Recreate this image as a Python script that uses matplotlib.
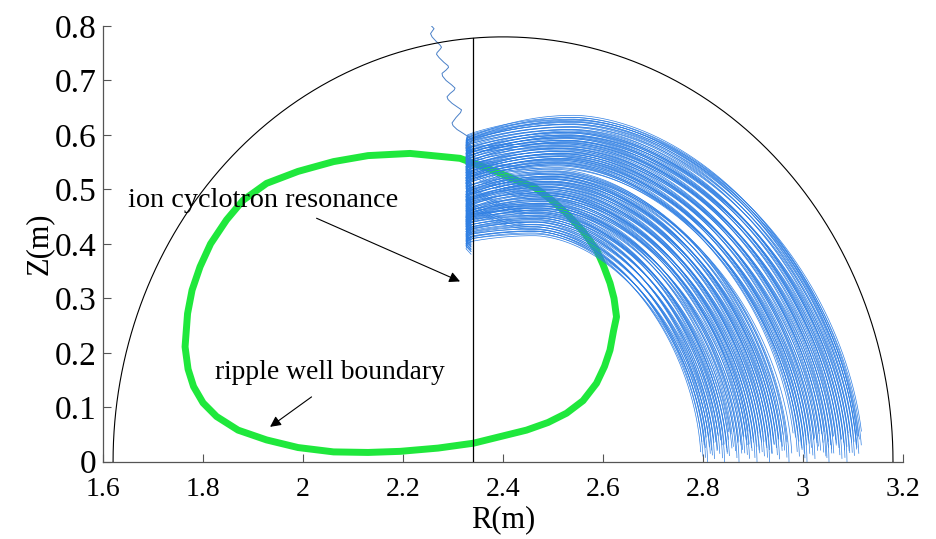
import numpy as np
import matplotlib
matplotlib.use("Agg")
import matplotlib.pyplot as plt

plt.rcParams['font.family'] = ['Liberation Serif', 'DejaVu Serif']

# ---- data -------------------------------------------------------------
x_ticks = [1.6, 1.8, 2.0, 2.2, 2.4, 2.6, 2.8, 3.0, 3.2]
x_ticklabels = ['1.6', '1.8', '2', '2.2', '2.4', '2.6', '2.8', '3', '3.2']
y_ticks = [0, 0.1, 0.2, 0.3, 0.4, 0.5, 0.6, 0.7, 0.8]
y_ticklabels = ['0', '0.1', '0.2', '0.3', '0.4', '0.5', '0.6', '0.7', '0.8']

# plasma boundary (semicircle) and resonance position
wall_center_R = 2.40
wall_radius = 0.78
resonance_R = 2.34

# ripple well boundary contour (R, Z)
well_R = [2.434, 2.380, 2.314, 2.214, 2.130, 2.061, 1.990, 1.927, 1.880, 1.847,
          1.815, 1.794, 1.778, 1.769, 1.764, 1.770, 1.781, 1.800, 1.827, 1.870,
          1.927, 1.990, 2.061, 2.130, 2.194, 2.270, 2.341, 2.394, 2.447, 2.490,
          2.527, 2.560, 2.587, 2.603, 2.614, 2.621, 2.627, 2.622, 2.614, 2.600,
          2.587, 2.560, 2.527, 2.495, 2.461, 2.434]
well_Z = [0.514, 0.535, 0.557, 0.566, 0.562, 0.551, 0.533, 0.511, 0.480, 0.444,
          0.400, 0.358, 0.315, 0.272, 0.211, 0.170, 0.138, 0.108, 0.083, 0.058,
          0.040, 0.026, 0.018, 0.017, 0.019, 0.025, 0.034, 0.046, 0.058, 0.072,
          0.089, 0.112, 0.144, 0.175, 0.205, 0.240, 0.266, 0.300, 0.328, 0.362,
          0.389, 0.423, 0.456, 0.482, 0.505, 0.514]

# escaping ion track above the resonance (R, Z)
escape_R = [2.257, 2.262, 2.258, 2.255, 2.258, 2.266, 2.274, 2.277, 2.274, 2.268,
            2.267, 2.272, 2.282, 2.290, 2.291, 2.286, 2.278, 2.279, 2.286, 2.297,
            2.304, 2.302, 2.294, 2.288, 2.290, 2.298, 2.309, 2.317, 2.315, 2.306,
            2.298, 2.300, 2.308, 2.320, 2.335, 2.337, 2.330, 2.326]
escape_Z = [0.800, 0.795, 0.790, 0.786, 0.780, 0.772, 0.765, 0.761, 0.757, 0.751,
            0.748, 0.742, 0.733, 0.727, 0.724, 0.719, 0.713, 0.708, 0.700, 0.692,
            0.686, 0.682, 0.676, 0.670, 0.665, 0.658, 0.651, 0.646, 0.641, 0.632,
            0.622, 0.617, 0.610, 0.603, 0.594, 0.588, 0.580, 0.576]

# trapped orbits: Z at resonance tip, peak Z, R where the orbit reaches the
# midplane, and Z at which the last bounce stops
orbit_tip_Z = [0.410, 0.418, 0.415, 0.425, 0.470, 0.432, 0.428, 0.441, 0.436, 0.450,
               0.445, 0.500, 0.452, 0.460, 0.455, 0.447, 0.463, 0.530, 0.458, 0.475,
               0.468, 0.462, 0.482, 0.478, 0.545, 0.488, 0.492, 0.480, 0.498, 0.505,
               0.490, 0.500, 0.555, 0.505, 0.520, 0.525, 0.515, 0.530, 0.535, 0.522,
               0.540, 0.548, 0.532, 0.552, 0.575, 0.540, 0.560, 0.565, 0.550, 0.570,
               0.575, 0.560, 0.578, 0.585, 0.568, 0.590, 0.592, 0.598, 0.600, 0.595]
orbit_peak_Z = [0.420, 0.428, 0.423, 0.436, 0.431, 0.445, 0.440, 0.452, 0.447, 0.458,
                0.462, 0.455, 0.466, 0.470, 0.474, 0.468, 0.480, 0.486, 0.478, 0.490,
                0.494, 0.488, 0.500, 0.505, 0.497, 0.510, 0.515, 0.508, 0.520, 0.524,
                0.518, 0.528, 0.533, 0.530, 0.545, 0.550, 0.543, 0.556, 0.560, 0.553,
                0.566, 0.570, 0.562, 0.575, 0.580, 0.572, 0.586, 0.590, 0.583, 0.595,
                0.600, 0.593, 0.605, 0.610, 0.603, 0.615, 0.620, 0.625, 0.628, 0.632]
orbit_end_R = [2.800, 2.804, 2.809, 2.814, 2.818, 2.823, 2.828, 2.834, 2.838, 2.843,
               2.848, 2.853, 2.860, 2.866, 2.872, 2.878, 2.884, 2.889, 2.893, 2.898,
               2.903, 2.908, 2.913, 2.918, 2.923, 2.928, 2.933, 2.938, 2.943, 2.948,
               2.953, 2.958, 2.964, 2.972, 2.988, 2.993, 2.998, 3.003, 3.008, 3.013,
               3.018, 3.024, 3.030, 3.036, 3.041, 3.046, 3.052, 3.057, 3.062, 3.068,
               3.073, 3.078, 3.083, 3.088, 3.093, 3.098, 3.103, 3.108, 3.112, 3.115]
orbit_cut_Z = [0.010, 0.030, 0.000, 0.045, 0.020, 0.005, 0.035, 0.015, 0.040, 0.000,
               0.025, 0.010, 0.050, 0.020, 0.000, 0.030, 0.015, 0.040, 0.005, 0.025,
               0.035, 0.000, 0.020, 0.045, 0.010, 0.030, 0.000, 0.015, 0.040, 0.025,
               0.005, 0.035, 0.020, 0.000, 0.045, 0.010, 0.030, 0.015, 0.000, 0.040,
               0.025, 0.005, 0.035, 0.020, 0.050, 0.010, 0.000, 0.030, 0.015, 0.040,
               0.025, 0.005, 0.035, 0.000, 0.020, 0.045, 0.010, 0.030, 0.015, 0.040]

# successive bounces of each orbit drift slightly: shift of end R, peak Z and stop Z
bounce_dR = [0.000, 0.006, -0.004]
bounce_dZ = [0.000, -0.005, 0.004]
bounce_cut = [0.000, 0.015, 0.007]

# ---- figure -----------------------------------------------------------
fig = plt.figure(figsize=(9.37, 5.39), dpi=100)
ax = fig.add_axes([0.110, 0.1434, 0.8537, 0.8084])

orbit_color = '#2f7fe3'
green = '#1fe83c'

# ripple well boundary
ax.plot(well_R, well_Z, color=green, lw=5.0, solid_capstyle='round', zorder=2)

# trapped orbits
p = 1.8
t = np.linspace(0, np.pi / 2, 400)
for tip, peak0, end0, cut0 in zip(orbit_tip_Z, orbit_peak_Z, orbit_end_R, orbit_cut_Z):
    for dR, dZ, dcut in zip(bounce_dR, bounce_dZ, bounce_cut):
        end = end0 + dR
        peak = peak0 + dZ
        t0 = tip + dZ
        R0 = resonance_R + 0.26 * (end - resonance_R)
        a = end - R0
        # turning tip at the resonance
        hook_R = [resonance_R - 0.004, resonance_R - 0.014, resonance_R - 0.011,
                  resonance_R]
        hook_Z = [t0 - 0.024, t0 - 0.014, t0 - 0.004, t0]
        # rising leg up to the peak
        s = np.linspace(0, 1, 40)
        left_R = resonance_R + s * (R0 - resonance_R)
        left_Z = t0 + (peak - t0) * (1 - (1 - s) ** 2)
        # descending leg (superellipse quadrant) down towards the midplane
        right_R = R0 + a * np.sin(t) ** (2 / p)
        right_Z = peak * np.cos(t) ** (2 / p)
        keep = right_Z >= min(cut0 + dcut, 0.055)
        R = np.concatenate([hook_R, left_R, right_R[keep]])
        Z = np.concatenate([hook_Z, left_Z, right_Z[keep]])
        ax.plot(R, Z, color=orbit_color, lw=0.5, zorder=3)

# escaping track
ax.plot(escape_R, escape_Z, color='#4a80c8', lw=0.7, zorder=3)

# wall
th = np.linspace(0, np.pi, 400)
ax.plot(wall_center_R + wall_radius * np.cos(th), wall_radius * np.sin(th),
        color='black', lw=0.8, zorder=4)

# resonance layer
res_top = np.sqrt(wall_radius ** 2 - (resonance_R - wall_center_R) ** 2)
ax.plot([resonance_R, resonance_R], [0, res_top], color='black', lw=0.9, zorder=4)

# annotations
ax.text(1.650, 0.468, 'ion cyclotron resonance', fontsize=20.3, ha='left',
        va='baseline', zorder=6)
ax.annotate('', xy=(2.314, 0.331), xytext=(2.027, 0.447),
            arrowprops=dict(arrowstyle='-|>', color='black', lw=0.8,
                            mutation_scale=16, shrinkA=0, shrinkB=0), zorder=6)
ax.text(1.824, 0.151, 'ripple well boundary', fontsize=19.8, ha='left',
        va='baseline', zorder=6)
ax.annotate('', xy=(1.934, 0.064), xytext=(2.017, 0.119),
            arrowprops=dict(arrowstyle='-|>', color='black', lw=0.8,
                            mutation_scale=16, shrinkA=0, shrinkB=0), zorder=6)

# axes styling
ax.set_xlim(1.6, 3.2)
ax.set_ylim(0, 0.8)
ax.set_xticks(x_ticks)
ax.set_xticklabels(x_ticklabels)
ax.set_yticks(y_ticks)
ax.set_yticklabels(y_ticklabels)
ax.tick_params(direction='in', length=6, width=0.8, colors='#555555',
               labelcolor='black')
ax.tick_params(axis='x', labelsize=20, pad=11)
ax.tick_params(axis='y', labelsize=24, pad=5)
for side in ('top', 'right'):
    ax.spines[side].set_visible(False)
for side in ('left', 'bottom'):
    ax.spines[side].set_color('#555555')
    ax.spines[side].set_linewidth(0.9)
ax.set_xlabel('R(m)', fontsize=22, labelpad=2)
ax.set_ylabel('Z(m)', fontsize=22, labelpad=0)

fig.savefig('out.png', dpi=100)
